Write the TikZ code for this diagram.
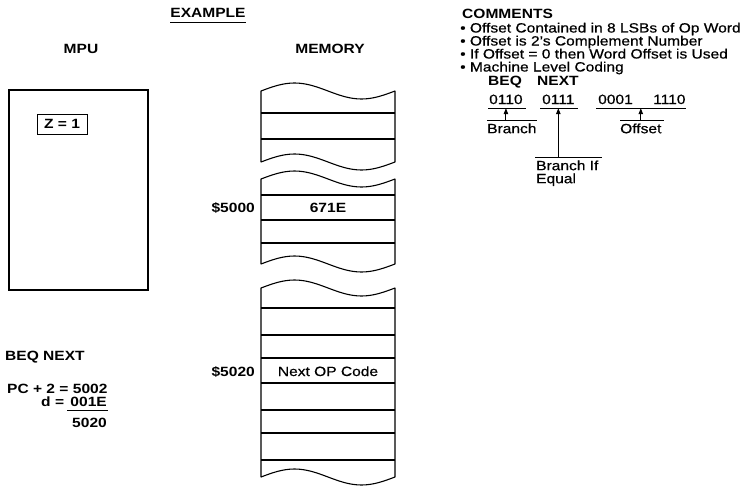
\documentclass[tikz,border=0pt]{standalone}
\usepackage{fontspec}
\setmainfont{Liberation Sans}[FakeStretch=1.16,FakeBold=0.6,BoldFeatures={FakeBold=0}]
\usetikzlibrary{positioning,arrows.meta,calc}

\begin{document}
\begin{tikzpicture}[x=1pt,y=-1pt,font=\fontsize{13.4}{13}\selectfont,>={Triangle[length=6pt,width=4.5pt]},
  lbl/.style={inner sep=0pt,anchor=base west},
  hd/.style={lbl,font=\fontsize{13.4}{13}\selectfont\bfseries},
  addr/.style={hd,anchor=base east},
  num/.style={inner xsep=0pt,inner ysep=4pt,text depth=0pt,anchor=base west},
  tag/.style={inner xsep=0pt,inner ysep=3pt,text height=10pt,text depth=0pt,anchor=north west},
  frame/.style={draw,line width=1.1pt},
  thin/.style={line width=0.9pt}]
\useasboundingbox (0,0) rectangle (749,487);
\node[hd,anchor=base] (title) at (208,18) {EXAMPLE};
\draw[thin] ([yshift=-4pt]title.base west) -- ([yshift=-4pt]title.base east);
\node[hd,anchor=base] (mpulbl) at (81,54) {MPU};
\node[hd,anchor=base] (memlbl) at (330,54) {MEMORY};
\node[frame,minimum width=139pt,minimum height=200pt] (mpu) at (78.5,190) {};
\node[draw,thin,font=\fontsize{13.4}{13}\selectfont\bfseries,minimum width=50pt,minimum height=20pt,inner sep=0pt] (zflag) at (62,124) {Z = 1};
\foreach \t/\b in {91/162,179/264,288/477}
  \draw[frame,line join=round] (261,\t) sin (294.5,\t-8) cos (328,\t) sin (361.5,\t+8) cos (395,\t)
    -- (395,\b) sin (361.5,\b+8) cos (328,\b) sin (294.5,\b-8) cos (261,\b) -- cycle;
\foreach \y in {113,139,195,220,243,308,335,358,383,410,433,460}
  \draw[frame] (261,\y) -- (395,\y);
\node[hd,anchor=base] (w5000) at (328,212.5) {671E};
\node[addr] (a5000) at (255,212.5) {\$5000};
\node[lbl,anchor=base] (w5020) at (328,376) {Next OP Code};
\node[addr] (a5020) at (255,376) {\$5020};
\node[hd] (beql) at (5,360) {BEQ NEXT};
\node[hd] (pcsum) at (7,393) {PC + 2 = 5002};
\node[hd,anchor=base east] (disp) at (107,406) {001E};
\node[hd,anchor=base east] (dlbl) at ([xshift=-6pt]disp.base west) {d =};
\draw[thin] ([xshift=-3pt,yshift=-4pt]disp.base west) -- ([xshift=1pt,yshift=-4pt]disp.base east);
\node[hd,anchor=base east] (target) at (107,427) {5020};
\node[hd] (cmt) at (462,19) {COMMENTS};
\foreach \txt [count=\i] in {Offset Contained in 8 LSBs of Op Word,Offset is 2’s Complement Number,If Offset = 0 then Word Offset is Used,Machine Level Coding}
  \node[lbl] (cm\i) at (460,{19.5+13*\i}) {\textbullet\ \txt};
\node[hd] (rbeq) at (488,85) {BEQ};
\node[hd] (rnext) at (537,85) {NEXT};
\node[num] (n0) at (489,104) {0110};
\node[num] (n1) at (542,104) {0111};
\node[num] (n2) at (598,104) {0001};
\node[num] (n3) at (653,104) {1110};
\draw[thin] ([xshift=-1pt]n0.south west) -- ([xshift=3pt]n0.south east);
\draw[thin] ([xshift=-2pt]n1.south west) -- ([xshift=3pt]n1.south east);
\draw[thin] ([xshift=-2pt]n2.south west) -- (n3.south east);
\node[tag] (brl) at (487,120) {Branch};
\node[tag] (offl) at (620,120) {Offset};
\node[tag] (bif) at (536,157) {Branch If};
\node[lbl] (bifeq) at ([yshift=-13pt]bif.base west) {Equal};
\draw[thin] (brl.north west) -- (brl.north east);
\draw[thin] (offl.north west) -- ([xshift=2pt]offl.north east);
\draw[thin] ([xshift=-1pt]bif.north west) -- ([xshift=3pt]bif.north east);
\draw[thin,->] (n0.south |- brl.north) -- (n0.south);
\draw[thin,->] (n1.south |- bif.north) -- (n1.south);
\draw[thin,->] (offl.north) -- (offl.north |- n2.south);
\end{tikzpicture}
\end{document}
